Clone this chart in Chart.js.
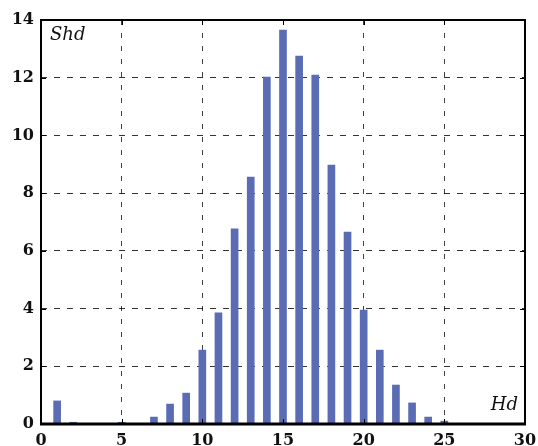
<!DOCTYPE html>
<html>
<head>
<meta charset="utf-8">
<script src="https://cdn.jsdelivr.net/npm/chart.js@4/dist/chart.umd.min.js"></script>
<style>
  html, body { margin: 0; padding: 0; background: #fff; }
  #wrap { width: 538px; height: 446px; }
</style>
</head>
<body>
<div id="wrap"><canvas id="canva1" width="538" height="446"></canvas></div>
<script>
const Hd = [1, 2, 3, 4, 5, 6, 7, 8, 9, 10, 11, 12, 13, 14, 15, 16, 17, 18, 19, 20, 21, 22, 23, 24, 25]
const Shd = [0.8, 0.06, 0, 0, 0.06, 0, 0.24, 0.69, 1.07, 2.56, 3.85, 6.76, 8.56, 12.02, 13.65, 12.75, 12.09, 8.97, 6.65, 3.95, 2.56, 1.35, 0.73, 0.24, 0.1]
const xTicks = [0, 5, 10, 15, 20, 25, 30]
const yTicks = [0, 2, 4, 6, 8, 10, 12, 14]

const ctx1 = document.getElementById('canva1').getContext('2d');

// black frame, inward ticks and the two axis names
const framePlugin = {
    id: 'frame',
    afterDatasetsDraw(chart) {
        const c = chart.ctx
        const a = chart.chartArea
        const xs = chart.scales.x
        const ys = chart.scales.y
        c.save()
        c.strokeStyle = '#000'
        c.lineWidth = 1
        c.beginPath()
        xTicks.forEach(t => {
            const px = Math.round(xs.getPixelForValue(t)) + 0.5
            c.moveTo(px, a.top); c.lineTo(px, a.top + 5)
            c.moveTo(px, a.bottom); c.lineTo(px, a.bottom - 5)
        })
        yTicks.forEach(t => {
            const py = Math.round(ys.getPixelForValue(t)) + 0.5
            c.moveTo(a.left, py); c.lineTo(a.left + 5, py)
            c.moveTo(a.right, py); c.lineTo(a.right - 5, py)
        })
        c.stroke()
        c.lineWidth = 2
        c.strokeRect(a.left, a.top, a.right - a.left, a.bottom - a.top)
        c.lineWidth = 3
        c.beginPath()
        c.moveTo(a.left - 1, a.bottom); c.lineTo(a.right + 1, a.bottom)
        c.stroke()
        c.fillStyle = '#111'
        c.font = 'italic 18px "DejaVu Serif"'
        c.textBaseline = 'middle'
        c.textAlign = 'left'
        c.fillText('Shd', a.left + 9, a.top + 15)
        c.textAlign = 'right'
        c.fillText('Hd', a.right - 7, a.bottom - 19)
        c.restore()
    }
}

const myChart = new Chart(ctx1, {
    type: 'bar',
    data: {
        datasets: [{
            label: 'Shd',
            data: Hd.map((h, i) => ({ x: h, y: Shd[i] })),
            backgroundColor: 'rgb(89,108,180)',
            barThickness: 7,
        }]
    },
    options: {
        responsive: false,
        animation: false,
        layout: {
            padding: { top: 20, right: 13, left: 0, bottom: 0 }
        },
        scales: {
            x: {
                type: 'linear',
                min: 0,
                max: 30,
                offset: false,
                afterFit: (s) => { s.height = 22; s.paddingLeft = 0; s.paddingRight = 0 },
                afterBuildTicks: (s) => { s.ticks = xTicks.map(v => ({ value: v })) },
                grid: {
                    offset: false,
                    drawTicks: false,
                    color: 'rgba(0,0,0,0.75)',
                    lineWidth: 1,
                },
                border: { display: false, dash: [5, 8] },
                ticks: {
                    padding: 7,
                    color: '#111',
                    maxRotation: 0,
                    font: { family: 'DejaVu Serif', weight: 'bold', size: 16 }
                }
            },
            y: {
                min: 0,
                max: 14,
                afterFit: (s) => { s.width = 41; s.paddingTop = 0; s.paddingBottom = 0 },
                afterBuildTicks: (s) => { s.ticks = yTicks.map(v => ({ value: v })) },
                grid: {
                    drawTicks: false,
                    color: 'rgba(0,0,0,0.8)',
                    lineWidth: 1,
                },
                border: { display: false, dash: [6, 7] },
                ticks: {
                    padding: 7,
                    color: '#111',
                    font: { family: 'DejaVu Serif', weight: 'bold', size: 16 }
                }
            },
        },
        plugins: {
            legend: { display: false },
            tooltip: { enabled: false },
        }
    },
    plugins: [framePlugin]
});
</script>
</body>
</html>
